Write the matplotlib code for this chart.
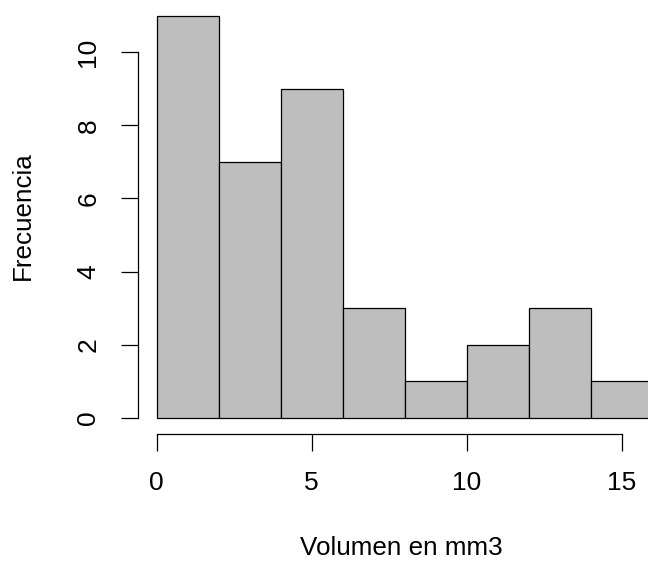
import matplotlib
matplotlib.use("Agg")
import matplotlib.pyplot as plt
import numpy as np

# histogram data (bin edges and counts)
bin_edges = [0, 2, 4, 6, 8, 10, 12, 14, 16]
counts = [11, 7, 9, 3, 1, 2, 3, 1]
x_ticks = [0, 5, 10, 15]
y_ticks = [0, 2, 4, 6, 8, 10]

plt.rcParams.update({
    "font.family": ["Liberation Sans", "DejaVu Sans"],
    "font.size": 19,
})

W, H = 648, 561
fig = plt.figure(figsize=(W / 100, H / 100), dpi=100)

# axes placed so that x=0..15 and y=0..10 land where the reference has them
x0_px, x15_px = 156.7, 621.7
y0_px, y10_px = 417.7, 52.3
ax = fig.add_axes([x0_px / W, 1 - y0_px / H,
                   (x15_px - x0_px) / W, (y0_px - y10_px) / H])
ax.set_xlim(0, 15)
ax.set_ylim(0, 10)

lefts = bin_edges[:-1]
widths = np.diff(bin_edges)
ax.bar(lefts, counts, width=widths, align="edge", color="#BEBEBE",
       edgecolor="black", linewidth=0.9, clip_on=False)

for s in ["top", "right"]:
    ax.spines[s].set_visible(False)
ax.spines["bottom"].set_position(("outward", 11.7))
ax.spines["left"].set_position(("outward", 13.7))
ax.spines["bottom"].set_bounds(0, 15)
ax.spines["left"].set_bounds(0, 10)
for s in ["bottom", "left"]:
    ax.spines[s].set_linewidth(0.9)

ax.set_xticks(x_ticks)
ax.set_yticks(y_ticks)
ax.tick_params(direction="out", length=12.5, width=0.9)
ax.tick_params(axis="x", pad=14.5)
ax.tick_params(axis="y", pad=14.3)
for lab in ax.get_yticklabels():
    lab.set_rotation(90)
    lab.set_va("center")

fig.text(22.5 / W, 1 - 216 / H, "Frecuencia", rotation=90,
         ha="center", va="center", fontsize=18.7)
fig.text(401 / W, 1 - 548 / H, "Volumen en mm3",
         ha="center", va="center", fontsize=18.7)

fig.savefig("out.png", dpi=100, facecolor="white")
